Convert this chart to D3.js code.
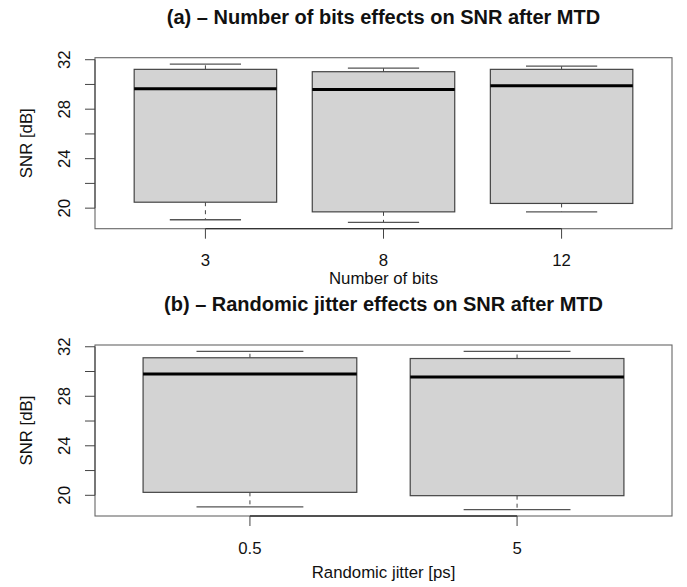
<!DOCTYPE html>
<html>
<head>
<meta charset="utf-8">
<script src="https://cdn.jsdelivr.net/npm/d3@7"></script>
<style>
  html, body { margin: 0; padding: 0; background: #fff; }
  svg { display: block; }
  text { font-family: "Liberation Sans", Arial, Helvetica, sans-serif; fill: #111; }
</style>
</head>
<body>
<svg id="chart" width="687" height="587"></svg>
<script>
// ---------- data ----------
const bitsCategories = ["3", "8", "12"];
const bitsLowerWhisker = [19.06, 18.85, 19.70];
const bitsQ1           = [20.48, 19.70, 20.38];
const bitsMedian       = [29.66, 29.60, 29.90];
const bitsQ3           = [31.22, 31.03, 31.22];
const bitsUpperWhisker = [31.65, 31.32, 31.48];

const jitterCategories = ["0.5", "5"];
const jitterLowerWhisker = [19.06, 18.84];
const jitterQ1           = [20.24, 19.97];
const jitterMedian       = [29.80, 29.55];
const jitterQ3           = [31.11, 31.05];
const jitterUpperWhisker = [31.63, 31.63];

const yTickValues = [20, 22, 24, 26, 28, 30, 32];
const yTickLabels = ["20", "", "24", "", "28", "", "32"];

const titleA = "(a) \u2013 Number of bits effects on SNR after MTD";
const titleB = "(b) \u2013 Randomic jitter effects on SNR after MTD";
const xLabelA = "Number of bits";
const xLabelB = "Randomic jitter [ps]";
const yLabel = "SNR [dB]";

// ---------- drawing ----------
const svg = d3.select("#chart");
const AXIS_FS = 16.8;
const TITLE_FS = 20;

function panel(cfg) {
  const { left, right, top, bottom, cats, lo, q1, med, q3, hi, title, xlab,
          titleY, tickLabelY, xlabY } = cfg;
  const n = cats.length;
  const g = svg.append("g");

  const ymin = d3.min(lo), ymax = d3.max(hi);
  const ext = (ymax - ymin) * 0.04;
  const y = d3.scaleLinear().domain([ymin - ext, ymax + ext]).range([bottom, top]);
  const xext = n * 0.04;
  const x = d3.scaleLinear().domain([0.5 - xext, n + 0.5 + xext]).range([left, right]);
  const boxW = x(0.8) - x(0);

  const data = cats.map((c, i) => ({ c, i: i + 1, lo: lo[i], q1: q1[i], med: med[i], q3: q3[i], hi: hi[i] }));

  const boxes = g.selectAll("g.box").data(data).join("g").attr("class", "box");
  // whiskers (dashed)
  boxes.append("line")
    .attr("x1", d => x(d.i)).attr("x2", d => x(d.i))
    .attr("y1", d => y(d.q1)).attr("y2", d => y(d.lo))
    .attr("stroke", "#444").attr("stroke-width", 1).attr("stroke-dasharray", "4,4");
  boxes.append("line")
    .attr("x1", d => x(d.i)).attr("x2", d => x(d.i))
    .attr("y1", d => y(d.q3)).attr("y2", d => y(d.hi))
    .attr("stroke", "#444").attr("stroke-width", 1).attr("stroke-dasharray", "4,4");
  // caps
  boxes.append("line")
    .attr("x1", d => x(d.i) - boxW / 4).attr("x2", d => x(d.i) + boxW / 4)
    .attr("y1", d => y(d.lo)).attr("y2", d => y(d.lo))
    .attr("stroke", "#555").attr("stroke-width", 1.3);
  boxes.append("line")
    .attr("x1", d => x(d.i) - boxW / 4).attr("x2", d => x(d.i) + boxW / 4)
    .attr("y1", d => y(d.hi)).attr("y2", d => y(d.hi))
    .attr("stroke", "#555").attr("stroke-width", 1.3);
  // box
  boxes.append("rect")
    .attr("x", d => x(d.i) - boxW / 2).attr("width", boxW)
    .attr("y", d => y(d.q3)).attr("height", d => y(d.q1) - y(d.q3))
    .attr("fill", "#d3d3d3").attr("stroke", "#444").attr("stroke-width", 1.2);
  // median
  boxes.append("line")
    .attr("x1", d => x(d.i) - boxW / 2).attr("x2", d => x(d.i) + boxW / 2)
    .attr("y1", d => y(d.med)).attr("y2", d => y(d.med))
    .attr("stroke", "#000").attr("stroke-width", 3);

  // frame
  g.append("rect").attr("x", left).attr("y", top)
    .attr("width", right - left).attr("height", bottom - top)
    .attr("fill", "none").attr("stroke", "#666").attr("stroke-width", 1.1);

  // y axis
  const ya = g.append("g");
  ya.append("line").attr("x1", left).attr("x2", left)
    .attr("y1", y(yTickValues[0])).attr("y2", y(yTickValues[yTickValues.length - 1]))
    .attr("stroke", "#444");
  ya.selectAll("line.t").data(yTickValues).join("line").attr("class", "t")
    .attr("x1", left - 10).attr("x2", left)
    .attr("y1", d => y(d)).attr("y2", d => y(d)).attr("stroke", "#444");
  ya.selectAll("text").data(yTickValues).join("text")
    .attr("transform", d => `translate(70,${y(d)}) rotate(-90)`)
    .attr("text-anchor", "middle").attr("font-size", AXIS_FS)
    .text((d, i) => yTickLabels[i]);
  g.append("text")
    .attr("transform", `translate(32,${(top + bottom) / 2}) rotate(-90)`)
    .attr("text-anchor", "middle").attr("font-size", AXIS_FS).text(yLabel);

  // x axis
  const xa = g.append("g");
  xa.append("line").attr("x1", x(1)).attr("x2", x(n))
    .attr("y1", bottom).attr("y2", bottom).attr("stroke", "#333").attr("stroke-width", 1.3);
  xa.selectAll("line.t").data(data).join("line").attr("class", "t")
    .attr("x1", d => x(d.i)).attr("x2", d => x(d.i))
    .attr("y1", bottom).attr("y2", bottom + 10).attr("stroke", "#444");
  xa.selectAll("text").data(data).join("text")
    .attr("x", d => x(d.i)).attr("y", tickLabelY)
    .attr("text-anchor", "middle").attr("font-size", AXIS_FS).text(d => d.c);
  g.append("text").attr("x", (left + right) / 2).attr("y", xlabY)
    .attr("text-anchor", "middle").attr("font-size", AXIS_FS).text(xlab);

  // title
  g.append("text").attr("x", (left + right) / 2).attr("y", titleY)
    .attr("text-anchor", "middle").attr("font-size", TITLE_FS).attr("font-weight", "bold")
    .text(title);
}

panel({
  left: 95, right: 672, top: 57.7, bottom: 228.7,
  cats: bitsCategories, lo: bitsLowerWhisker, q1: bitsQ1, med: bitsMedian, q3: bitsQ3, hi: bitsUpperWhisker,
  title: titleA, xlab: xLabelA, titleY: 23.5, tickLabelY: 265.8, xlabY: 283.5
});
panel({
  left: 95, right: 672, top: 345, bottom: 516,
  cats: jitterCategories, lo: jitterLowerWhisker, q1: jitterQ1, med: jitterMedian, q3: jitterQ3, hi: jitterUpperWhisker,
  title: titleB, xlab: xLabelB, titleY: 310.5, tickLabelY: 553.5, xlabY: 578
});
</script>
</body>
</html>
